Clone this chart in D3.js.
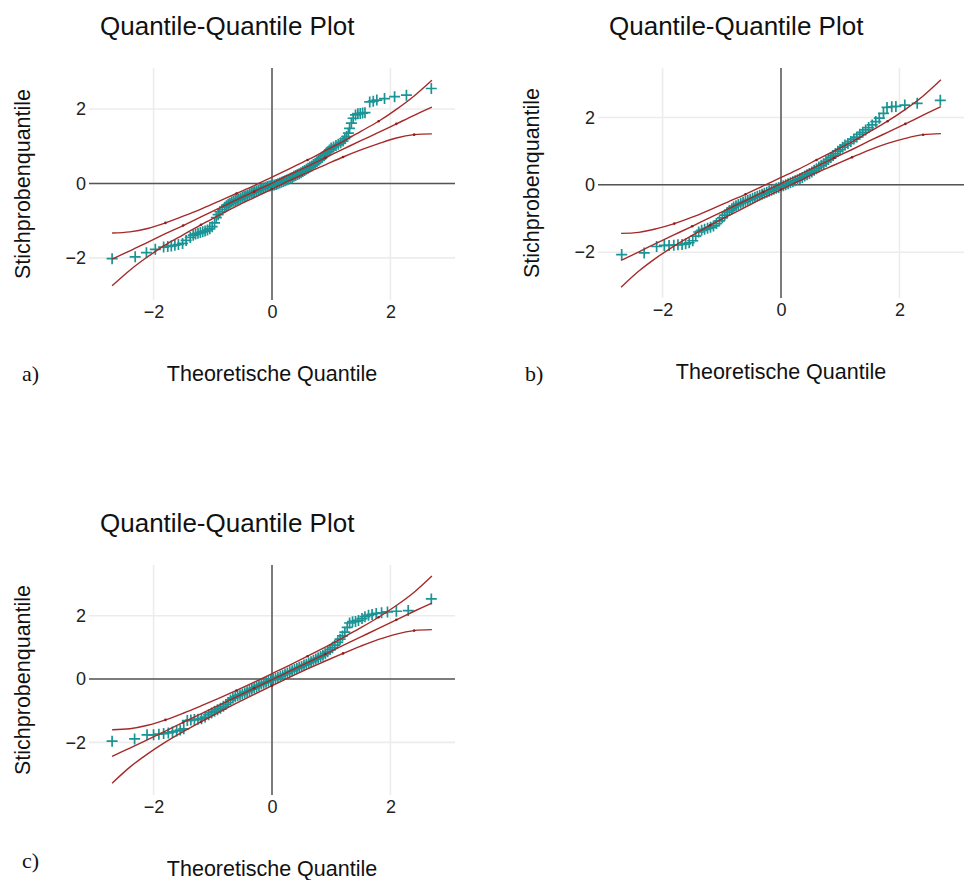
<!DOCTYPE html>
<html>
  <head>
    <meta charset="utf-8">
    <title>Quantile-Quantile Plots</title>
    <script src="https://d3js.org/d3.v7.min.js" charset="utf-8"></script>
    <style>
      html, body { margin: 0; padding: 0; background: #fff; }
      svg { display: block; }
      .tick text { font-family: "Liberation Sans", Arial, Helvetica, sans-serif; font-size: 18px; fill: #222; }
    </style>
  </head>
  <body>
    <div id="box"></div>
    <script type="text/javascript">
      // tick labels shared by all three panels
      var tickVals = [-2, 0, 2];

      // x positions of the reference line / confidence band
      var bandX = [-2.7, -2.4, -2.1, -1.8, -1.5, -1.2, -0.9, -0.6, -0.3, 0, 0.3, 0.6, 0.9, 1.2, 1.5, 1.8, 2.1, 2.4, 2.7];
      // x positions of the little dots on the red lines
      var dotX = [-1.5, -0.3, 0.9, 2.1];

      // ---- panel a ----
      var theoA = [-2.70, -2.31, -2.12, -1.97, -1.83, -1.76, -1.70, -1.64, -1.58, -1.51, -1.45, -1.38, -1.33, -1.29, -1.25, -1.21, -1.17, -1.13, -1.09, -1.05, -1.01, -0.97, -0.94, -0.91, -0.88,
        -0.84, -0.80, -0.77, -0.74, -0.71, -0.68, -0.65, -0.62, -0.59, -0.56, -0.53, -0.50, -0.47, -0.44, -0.41, -0.38, -0.35, -0.32, -0.29, -0.26, -0.23, -0.20, -0.17, -0.14, -0.11, -0.08, -0.05, -0.02,
        0.01, 0.04, 0.07, 0.10, 0.13, 0.16, 0.19, 0.22, 0.25, 0.28, 0.31, 0.34, 0.37, 0.40, 0.43, 0.46, 0.49, 0.52, 0.55, 0.58, 0.61, 0.64, 0.67, 0.70, 0.73, 0.76, 0.79, 0.82, 0.85, 0.88, 0.91, 0.94, 0.97, 1.00,
        1.04, 1.08, 1.12, 1.16, 1.20, 1.23, 1.26, 1.29, 1.31, 1.34, 1.37, 1.41, 1.45, 1.49, 1.53, 1.57, 1.65, 1.71, 1.77, 1.90, 2.07, 2.27, 2.69];
      var sampleA = [-2.02, -1.97, -1.86, -1.77, -1.71, -1.69, -1.68, -1.66, -1.64, -1.61, -1.53, -1.45, -1.39, -1.36, -1.34, -1.32, -1.30, -1.28, -1.25, -1.22, -1.16, -1.06, -0.92, -0.84, -0.76,
        -0.70, -0.64, -0.60, -0.56, -0.53, -0.50, -0.48, -0.46, -0.44, -0.42, -0.40, -0.37, -0.35, -0.33, -0.31, -0.28, -0.26, -0.24, -0.22, -0.20, -0.18, -0.16, -0.14, -0.12, -0.10, -0.08, -0.07, -0.06,
        -0.05, -0.04, -0.03, -0.01, 0.01, 0.03, 0.05, 0.07, 0.09, 0.11, 0.14, 0.16, 0.19, 0.21, 0.24, 0.26, 0.29, 0.32, 0.35, 0.38, 0.41, 0.44, 0.47, 0.51, 0.54, 0.58, 0.62, 0.66, 0.70, 0.75, 0.80, 0.85, 0.90, 0.95,
        0.98, 1.02, 1.05, 1.09, 1.14, 1.20, 1.26, 1.35, 1.48, 1.62, 1.75, 1.84, 1.87, 1.88, 1.89, 1.90, 2.19, 2.21, 2.24, 2.28, 2.33, 2.37, 2.55];
      var midA = [-2.03, -1.81, -1.58, -1.35, -1.13, -0.90, -0.67, -0.44, -0.22, 0.01, 0.24, 0.46, 0.69, 0.92, 1.15, 1.37, 1.60, 1.83, 2.05];
      var upA  = [-1.33, -1.30, -1.21, -1.06, -0.88, -0.69, -0.48, -0.27, -0.06, 0.17, 0.40, 0.63, 0.88, 1.13, 1.40, 1.67, 1.99, 2.35, 2.77];
      var loA  = [-2.75, -2.33, -1.97, -1.65, -1.38, -1.11, -0.86, -0.61, -0.38, -0.15, 0.08, 0.29, 0.50, 0.71, 0.90, 1.07, 1.22, 1.31, 1.33];

      // ---- panel b ----
      var theoB = [-2.69, -2.31, -2.10, -1.97, -1.89, -1.81, -1.74, -1.67, -1.61, -1.55, -1.49, -1.44, -1.39, -1.34, -1.29, -1.24, -1.19, -1.14, -1.09, -1.04, -0.99, -0.95, -0.91, -0.87, -0.83,
        -0.80, -0.76, -0.72, -0.68, -0.64, -0.60, -0.56, -0.52, -0.48, -0.44, -0.40, -0.36, -0.32, -0.28, -0.24, -0.20, -0.16, -0.12, -0.08, -0.04,
        0.00, 0.04, 0.08, 0.12, 0.16, 0.20, 0.24, 0.28, 0.32, 0.36, 0.40, 0.44, 0.48, 0.52, 0.56, 0.60, 0.64, 0.68, 0.72, 0.76, 0.80, 0.84, 0.88, 0.92, 0.96,
        1.00, 1.04, 1.08, 1.13, 1.18, 1.23, 1.28, 1.33, 1.38, 1.43, 1.48, 1.54, 1.60, 1.66, 1.73, 1.79, 1.87, 1.94, 2.09, 2.30, 2.69];
      var sampleB = [-2.07, -2.02, -1.83, -1.80, -1.80, -1.79, -1.78, -1.77, -1.75, -1.72, -1.66, -1.52, -1.40, -1.35, -1.32, -1.29, -1.26, -1.22, -1.15, -1.07, -0.98, -0.90, -0.82, -0.76, -0.71,
        -0.66, -0.62, -0.58, -0.55, -0.52, -0.49, -0.46, -0.43, -0.40, -0.37, -0.34, -0.31, -0.28, -0.25, -0.22, -0.19, -0.16, -0.13, -0.10, -0.08,
        -0.05, -0.03, 0.00, 0.03, 0.06, 0.09, 0.12, 0.15, 0.19, 0.22, 0.26, 0.30, 0.34, 0.38, 0.43, 0.48, 0.53, 0.58, 0.63, 0.69, 0.75, 0.81, 0.87, 0.93, 1.00,
        1.05, 1.12, 1.18, 1.23, 1.29, 1.36, 1.42, 1.50, 1.56, 1.63, 1.70, 1.78, 1.88, 1.98, 2.12, 2.30, 2.32, 2.33, 2.37, 2.42, 2.51];
      var midB = [-2.24, -1.99, -1.73, -1.48, -1.23, -0.97, -0.72, -0.47, -0.21, 0.04, 0.29, 0.55, 0.80, 1.05, 1.31, 1.56, 1.81, 2.07, 2.32];
      var upB  = [-1.44, -1.41, -1.30, -1.15, -0.96, -0.74, -0.51, -0.28, -0.03, 0.22, 0.47, 0.74, 1.01, 1.28, 1.58, 1.89, 2.24, 2.64, 3.12];
      var loB  = [-3.04, -2.56, -2.16, -1.81, -1.50, -1.20, -0.93, -0.66, -0.39, -0.14, 0.11, 0.36, 0.59, 0.82, 1.04, 1.23, 1.38, 1.49, 1.52];

      // ---- panel c ----
      var theoC = [-2.70, -2.32, -2.11, -2.00, -1.91, -1.83, -1.75, -1.68, -1.61, -1.55, -1.49, -1.43, -1.37, -1.31, -1.25, -1.19, -1.13, -1.07, -1.02, -0.97, -0.92, -0.87, -0.82, -0.78,
        -0.74, -0.70, -0.66, -0.62, -0.58, -0.54, -0.50, -0.46, -0.42, -0.38, -0.34, -0.30, -0.26, -0.22, -0.18, -0.14, -0.10, -0.06, -0.02,
        0.02, 0.06, 0.10, 0.14, 0.18, 0.22, 0.26, 0.30, 0.34, 0.38, 0.42, 0.46, 0.50, 0.54, 0.58, 0.62, 0.66, 0.70, 0.74, 0.78, 0.82, 0.86, 0.90, 0.94, 0.98,
        1.02, 1.06, 1.11, 1.15, 1.19, 1.23, 1.27, 1.31, 1.36, 1.41, 1.46, 1.52, 1.57, 1.63, 1.69, 1.76, 1.85, 1.95, 2.10, 2.30, 2.69];
      var sampleC = [-1.96, -1.89, -1.76, -1.76, -1.74, -1.72, -1.70, -1.67, -1.64, -1.61, -1.57, -1.31, -1.29, -1.28, -1.27, -1.25, -1.20, -1.13, -1.07, -1.02, -0.97, -0.92, -0.86, -0.80,
        -0.74, -0.66, -0.60, -0.56, -0.53, -0.50, -0.47, -0.43, -0.40, -0.36, -0.32, -0.28, -0.24, -0.20, -0.16, -0.13, -0.10, -0.07, -0.04,
        -0.01, 0.02, 0.05, 0.09, 0.12, 0.16, 0.19, 0.23, 0.26, 0.30, 0.33, 0.37, 0.40, 0.44, 0.47, 0.51, 0.55, 0.59, 0.63, 0.67, 0.71, 0.75, 0.80, 0.86, 0.93,
        0.99, 1.07, 1.16, 1.26, 1.36, 1.48, 1.63, 1.77, 1.81, 1.82, 1.85, 1.91, 1.97, 2.01, 2.04, 2.07, 2.09, 2.12, 2.14, 2.16, 2.53];
      var midC = [-2.44, -2.18, -1.91, -1.64, -1.37, -1.10, -0.83, -0.56, -0.29, -0.02, 0.25, 0.52, 0.79, 1.06, 1.33, 1.60, 1.87, 2.14, 2.40];
      var upC  = [-1.60, -1.57, -1.46, -1.29, -1.08, -0.85, -0.61, -0.36, -0.10, 0.17, 0.44, 0.72, 1.01, 1.31, 1.62, 1.95, 2.32, 2.74, 3.25];
      var loC  = [-3.29, -2.78, -2.36, -1.99, -1.66, -1.35, -1.05, -0.76, -0.48, -0.21, 0.06, 0.32, 0.57, 0.81, 1.04, 1.25, 1.42, 1.53, 1.56];

      var titleText = "Quantile-Quantile Plot";
      var xTitle = "Theoretische Quantile";
      var yTitle = "Stichprobenquantile";

      var width = 964;
      var height = 880;
      var teal = "#1a9494";
      var red = "#a52a2a";
      var sans = "'Liberation Sans', Arial, Helvetica, sans-serif";
      var fmt = d3.format("d");

      var panels = [
        { letter: "a)", left: 89, top: 68, w: 366, h: 232, yDom: [-3.13, 3.10], letterX: 22, letterY: 381,
          theo: theoA, sample: sampleA, mid: midA, up: upA, lo: loA },
        { letter: "b)", left: 598, top: 68, w: 366, h: 230, yDom: [-3.36, 3.47], letterX: 525, letterY: 381,
          theo: theoB, sample: sampleB, mid: midB, up: upB, lo: loB },
        { letter: "c)", left: 89, top: 565, w: 366, h: 230, yDom: [-3.66, 3.60], letterX: 22, letterY: 868,
          theo: theoC, sample: sampleC, mid: midC, up: upC, lo: loC }
      ];

      var canvas = d3.select("div#box")
                     .append("svg")
                     .attr("width", width)
                     .attr("height", height);

      panels.forEach(function(p) {
        var x = d3.scaleLinear().domain([-3.09, 3.09]).range([p.left, p.left + p.w]);
        var y = d3.scaleLinear().domain(p.yDom).range([p.top + p.h, p.top]);
        var g = canvas.append("g");

        // grid lines
        g.selectAll("line.gx").data(tickVals).enter().append("line")
          .attr("x1", function(d) { return x(d); }).attr("x2", function(d) { return x(d); })
          .attr("y1", p.top).attr("y2", p.top + p.h)
          .attr("stroke", "#ececec").attr("stroke-width", 1.6);
        g.selectAll("line.gy").data(tickVals).enter().append("line")
          .attr("y1", function(d) { return y(d); }).attr("y2", function(d) { return y(d); })
          .attr("x1", p.left).attr("x2", p.left + p.w)
          .attr("stroke", "#ececec").attr("stroke-width", 1.6);

        // zero lines
        g.append("line").attr("x1", x(0)).attr("x2", x(0)).attr("y1", p.top).attr("y2", p.top + p.h)
          .attr("stroke", "#555").attr("stroke-width", 1.5);
        g.append("line").attr("y1", y(0)).attr("y2", y(0)).attr("x1", p.left).attr("x2", p.left + p.w)
          .attr("stroke", "#555").attr("stroke-width", 1.5);

        // axes (labels only)
        var xAxis = g.append("g").attr("transform", "translate(0," + (p.top + p.h) + ")")
          .call(d3.axisBottom(x).tickValues(tickVals).tickFormat(fmt).tickSize(0).tickPadding(5));
        var yAxis = g.append("g").attr("transform", "translate(" + p.left + ",0)")
          .call(d3.axisLeft(y).tickValues(tickVals).tickFormat(fmt).tickSize(0).tickPadding(3));
        xAxis.select(".domain").remove();
        yAxis.select(".domain").remove();

        // sample points as "+"
        var pts = p.theo.map(function(d, i) { return [d, p.sample[i]]; });
        g.selectAll("path.pt").data(pts).enter().append("path")
          .attr("d", "M-5.5,0H5.5M0,-5.5V5.5")
          .attr("transform", function(d) { return "translate(" + x(d[0]) + "," + y(d[1]) + ")"; })
          .attr("stroke", teal).attr("stroke-width", 1.7).attr("fill", "none");

        // reference line and confidence band
        var line = d3.line()
          .x(function(d, i) { return x(bandX[i]); })
          .y(function(d) { return y(d); })
          .curve(d3.curveCatmullRom.alpha(0.5));
        [p.up, p.mid, p.lo].forEach(function(arr, j) {
          g.append("path").datum(arr).attr("d", line)
            .attr("fill", "none").attr("stroke", red).attr("stroke-width", 1.4);
          var dots = dotX.map(function(dx) {
            var k = bandX.indexOf(dx) + j - 1;
            return [bandX[k], arr[k]];
          });
          g.selectAll(null).data(dots).enter().append("circle")
            .attr("cx", function(d) { return x(d[0]); })
            .attr("cy", function(d) { return y(d[1]); })
            .attr("r", 1.3).attr("fill", "#8a1f1f");
        });

        // titles
        g.append("text").attr("x", p.left + 11).attr("y", p.top - 33)
          .style("font-family", sans).style("font-size", "26px").attr("fill", "#111")
          .text(titleText);
        g.append("text").attr("x", p.left + p.w / 2).attr("y", p.top + p.h + 81)
          .attr("text-anchor", "middle")
          .style("font-family", sans).style("font-size", "21.5px").attr("fill", "#111")
          .text(xTitle);
        g.append("text")
          .attr("transform", "translate(" + (p.left - 59) + "," + (p.top + p.h / 2) + ") rotate(-90)")
          .attr("text-anchor", "middle")
          .style("font-family", sans).style("font-size", "21.5px").attr("fill", "#111")
          .text(yTitle);
        g.append("text").attr("x", p.letterX).attr("y", p.letterY)
          .style("font-family", "'Liberation Serif', 'Times New Roman', serif").style("font-size", "22px").attr("fill", "#111")
          .text(p.letter);
      });
    </script>
  </body>
</html>
